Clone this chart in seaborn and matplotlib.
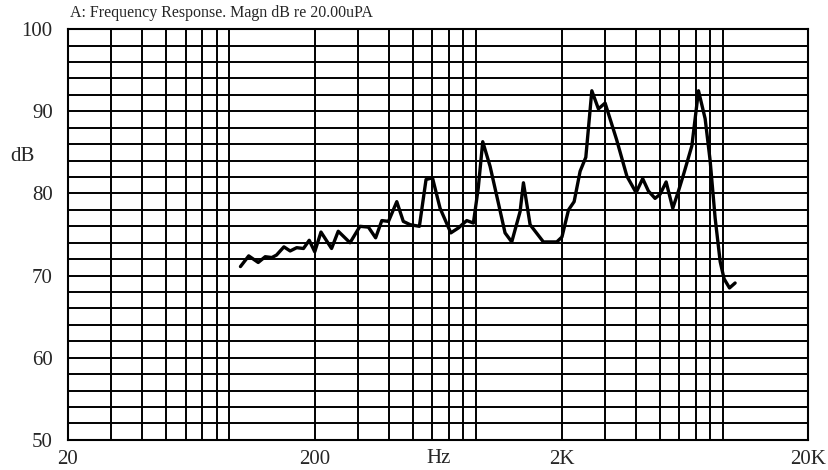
import matplotlib
matplotlib.use("Agg")
import matplotlib.pyplot as plt
import matplotlib.ticker as mticker
import numpy as np
import pandas as pd
import seaborn as sns

# values
freq_hz = [100, 108, 118, 126, 134, 140, 150, 159, 169, 180, 190, 200, 212, 234, 249,
           278, 305, 330, 353, 374, 398, 430, 457, 487, 531, 565, 600, 644, 712, 764,
           826, 879, 920, 959, 1027, 1093, 1181, 1257, 1359, 1402, 1492, 1689, 1914,
           2008, 2135, 2250, 2379, 2509, 2654, 2822, 3004, 3348, 3681, 4011, 4266,
           4499, 4787, 5018, 5309, 5648, 5957, 6244, 6750, 7180, 7640, 8004, 8387,
           8790, 9120, 9590, 10105]
magn_db = [71.1, 72.4, 71.6, 72.3, 72.2, 72.5, 73.5, 73.0, 73.4, 73.3, 74.3, 72.9, 75.3,
           73.3, 75.4, 74.0, 76.0, 75.9, 74.6, 76.7, 76.6, 79.0, 76.6, 76.2, 76.0, 81.7,
           81.9, 78.2, 75.2, 75.8, 76.7, 76.4, 80.7, 86.3, 83.3, 79.7, 75.2, 74.1, 77.8,
           81.3, 76.2, 74.1, 74.1, 74.7, 78.0, 79.0, 82.7, 84.4, 92.5, 90.3, 91.0, 86.5,
           82.1, 80.1, 81.8, 80.3, 79.4, 79.9, 81.4, 78.2, 80.3, 82.3, 85.8, 92.5, 89.1,
           84.0, 77.0, 71.7, 69.6, 68.5, 69.1]

x_ticks = [20, 200, 2000, 20000]
x_tick_labels = ["20", "200", "2K", "20K"]
y_ticks = [50, 60, 70, 80, 90, 100]

sns.set_style("white")
plt.rcParams["font.family"] = ["Liberation Serif", "DejaVu Serif"]

df = pd.DataFrame({"freq": freq_hz, "db": magn_db})

fig = plt.figure(figsize=(8.29, 4.70), dpi=100)
ax = fig.add_axes([0.082, 0.064, 0.893, 0.874])

sns.lineplot(data=df, x="freq", y="db", color="black", linewidth=2.4, ax=ax)

ax.set_xscale("log")
ax.set_xlim(20, 20000)
ax.set_ylim(50, 100)

ax.xaxis.set_major_locator(mticker.FixedLocator(x_ticks))
ax.xaxis.set_major_formatter(mticker.FixedFormatter(x_tick_labels))
ax.xaxis.set_minor_locator(mticker.LogLocator(base=10, subs=np.arange(2, 10)))
ax.xaxis.set_minor_formatter(mticker.NullFormatter())
ax.yaxis.set_major_locator(mticker.FixedLocator(y_ticks))
ax.yaxis.set_minor_locator(mticker.MultipleLocator(2))

ax.grid(which="both", color="black", linewidth=1.4)
ax.set_axisbelow(True)
for sp in ax.spines.values():
    sp.set_color("black")
    sp.set_linewidth(1.5)

ax.tick_params(axis="both", which="both", length=0)
ax.tick_params(axis="y", labelsize=15, pad=11)
ax.tick_params(axis="x", labelsize=15, pad=7)

ax.set_xlabel("Hz", fontsize=15, labelpad=-14)
ax.set_ylabel("dB", fontsize=15, rotation=0, va="center", ha="center")
ax.yaxis.set_label_coords(-0.062, 0.69)

fig.text(0.084, 0.972, "A: Frequency Response. Magn dB re 20.00uPA",
         fontsize=11.5, ha="left", va="center")

fig.savefig("out.png", dpi=100)
